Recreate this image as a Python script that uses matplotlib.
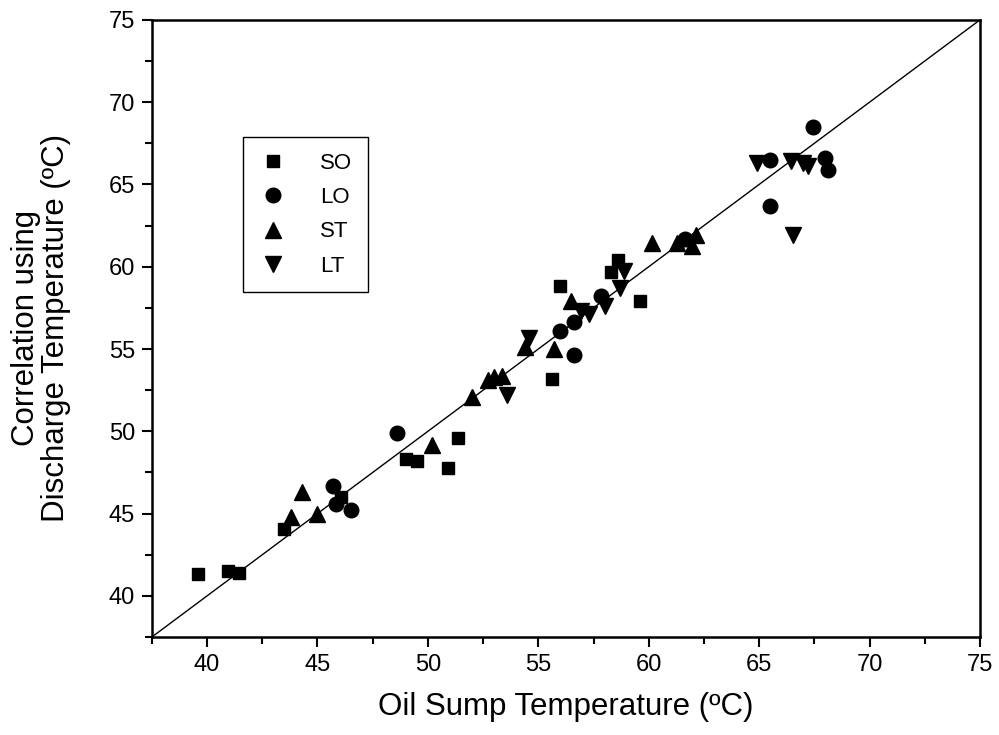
import matplotlib
matplotlib.use("Agg")
import matplotlib.pyplot as plt
from matplotlib.ticker import MultipleLocator

plt.rcParams['font.family'] = ['Liberation Sans', 'DejaVu Sans']

# SO: squares
so_x = [39.6, 40.95, 41.45, 43.5, 46.05, 49.0, 49.5, 50.9, 51.35, 55.6, 56.0, 58.3, 58.6, 59.6]
so_y = [41.35, 41.5, 41.4, 44.05, 46.0, 48.3, 48.2, 47.8, 49.6, 53.2, 58.85, 59.7, 60.4, 57.9]

# LO: circles
lo_x = [45.7, 45.85, 46.5, 48.6, 56.0, 56.6, 56.6, 57.85, 61.65, 65.5, 65.5, 67.45, 68.0, 68.1]
lo_y = [46.7, 45.6, 45.2, 49.9, 56.1, 56.65, 54.65, 58.25, 61.7, 66.5, 63.7, 68.5, 66.6, 65.85]

# ST: up triangles
st_x = [43.8, 44.3, 45.0, 50.2, 52.0, 52.7, 53.0, 53.35, 54.4, 55.7, 56.5, 60.15, 61.3, 61.95, 62.15]
st_y = [44.8, 46.3, 45.0, 49.15, 52.1, 53.1, 53.3, 53.35, 55.1, 55.0, 57.9, 61.45, 61.45, 61.25, 61.95]

# LT: down triangles
lt_x = [53.6, 54.6, 56.95, 57.3, 58.0, 58.7, 58.9, 64.9, 66.45, 66.55, 67.0, 67.2]
lt_y = [52.2, 55.65, 57.3, 57.1, 57.6, 58.7, 59.75, 66.3, 66.4, 61.95, 66.3, 66.1]

lims = [37.5, 75]

fig = plt.figure(figsize=(9.99, 7.35), dpi=100)
ax = fig.add_axes([0.152, 0.1333, 0.829, 0.8397])

ax.plot(lims, lims, color='black', lw=1.0, zorder=1)

ax.plot(so_x, so_y, 's', color='black', ms=9, ls='none', label='SO')
ax.plot(lo_x, lo_y, 'o', color='black', ms=10.5, ls='none', label='LO')
ax.plot(st_x, st_y, '^', color='black', ms=11, ls='none', label='ST')
ax.plot(lt_x, lt_y, 'v', color='black', ms=11, ls='none', label='LT')

ax.set_xlim(lims)
ax.set_ylim(lims)
ax.xaxis.set_major_locator(MultipleLocator(5))
ax.xaxis.set_minor_locator(MultipleLocator(2.5))
ax.yaxis.set_major_locator(MultipleLocator(5))
ax.yaxis.set_minor_locator(MultipleLocator(2.5))
ax.tick_params(which='both', direction='out', top=False, right=False, width=1.5,
               labelsize=17)
ax.tick_params(which='major', length=7, pad=5)
ax.tick_params(which='minor', length=5)
for s in ax.spines.values():
    s.set_linewidth(1.8)

ax.set_xlabel('Oil Sump Temperature (ºC)', fontsize=22.5, labelpad=12)
ax.set_ylabel('Correlation using\nDischarge Temperature (ºC)', fontsize=22.5,
              linespacing=1.0)
ax.yaxis.set_label_coords(-0.098, 0.5)

leg = ax.legend(loc='upper left', bbox_to_anchor=(0.1095, 0.81), fontsize=16,
                frameon=True, fancybox=False, edgecolor='black', framealpha=1,
                borderpad=0.7, labelspacing=0.6, handletextpad=1.5,
                handlelength=1.3, borderaxespad=0)
leg.get_frame().set_linewidth(1.0)

fig.savefig('out.png', dpi=100)
